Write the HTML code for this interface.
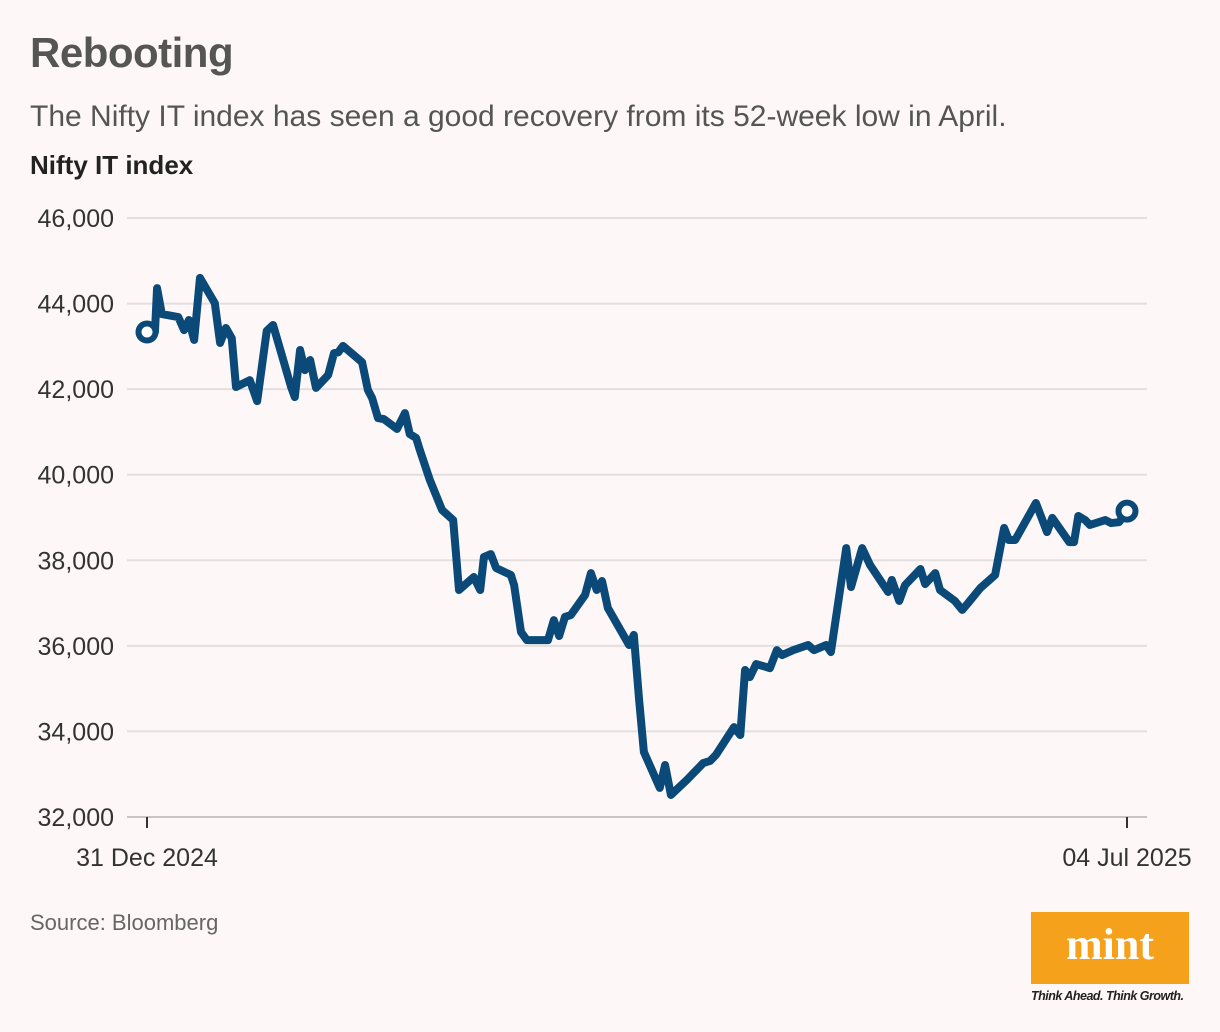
<!DOCTYPE html>
<html><head><meta charset="utf-8"><style>
body{margin:0;background:#fdf8f7;font-family:"Liberation Sans",sans-serif;}
#wrap{position:relative;width:1220px;height:1032px;overflow:hidden;background:#fdf8f7}
.t{position:absolute;white-space:nowrap}
</style></head><body>
<div id="wrap">
<div class="t" style="left:30px;top:29px;font-size:42px;font-weight:bold;color:#555;letter-spacing:-0.5px">Rebooting</div>
<div class="t" style="left:30px;top:100px;font-size:30px;color:#555">The Nifty IT index has seen a good recovery from its 52-week low in April.</div>
<div class="t" style="left:30px;top:150px;font-size:26px;font-weight:bold;color:#222">Nifty IT index</div>
<svg id="chart" width="1220" height="1032" style="position:absolute;left:0;top:0"></svg>
<div class="t" style="left:30px;top:910px;font-size:22px;color:#666">Source: Bloomberg</div>
<div style="position:absolute;left:1031px;top:912px;width:158px;height:72px;background:#f5a11c;color:#fff;font-family:'Liberation Serif',serif;font-weight:bold;font-size:44px;text-align:center;line-height:66px">mint</div>
<div class="t" style="left:1031px;top:989px;font-size:12.5px;font-style:italic;font-weight:bold;color:#222;letter-spacing:-0.5px">Think Ahead. Think Growth.</div>
</div>
<script>
const days=[0,1.5,1.9,2.8,5.9,7,7.9,8.9,10,12.8,13.8,14.9,16,16.8,19.4,20.8,22.6,23.8,27.2,27.9,28.9,29.8,30.8,31.9,34.2,35.3,36.1,37,40.6,41.7,42.5,43.6,44.7,47.2,48.7,49.6,50.8,51.5,53.4,55.7,57.8,58.9,61.7,62.9,63.6,64.9,65.9,68.7,69.3,70.6,71.7,75.7,76.8,77.8,78.9,80,82.7,83.8,84.9,85.9,87,91,91.9,92.9,93.8,96.8,97.8,98.9,101.9,105,106.3,107.4,110.8,112,112.9,113.8,115,117.6,118.9,119.9,122,124.8,125.9,128.2,129.1,132,132.9,135,136.5,139.9,140.6,142,143.1,146,146.9,148.8,149.7,152.5,153.9,155,157.3,160.1,161.8,162.7,163.9,167.8,169.9,170.9,174.1,175,175.8,177.1,178,180.9,182,183.5,185];
const values=[43335,43335,44360,43755,43685,43380,43615,43150,44600,44010,43080,43430,43190,42050,42210,41720,43360,43500,42050,41815,42915,42445,42680,42030,42330,42840,42860,43010,42630,41980,41790,41325,41300,41070,41440,40950,40860,40580,39875,39175,38940,37305,37610,37305,38075,38145,37820,37655,37420,36325,36135,36135,36600,36230,36675,36720,37190,37700,37305,37515,36885,36020,36255,34735,33520,32680,33215,32515,32865,33260,33310,33450,34100,33915,35435,35270,35575,35480,35900,35785,35900,36020,35900,36020,35855,38285,37375,38285,37890,37260,37540,37050,37420,37795,37445,37700,37305,37050,36840,37000,37350,37655,38755,38475,38475,39340,38660,38990,38425,38425,39035,38940,38825,38940,38870,38890,39150];
const yTicks=[32000,34000,36000,38000,40000,42000,44000,46000];
const yTickLabels=["32,000","34,000","36,000","38,000","40,000","42,000","44,000","46,000"];
const xTickDays=[0,185];
const xTickLabels=["31 Dec 2024","04 Jul 2025"];
const X0=147,X1=1127,Y0=817,Y1=218;
const xs=d=>X0+(d-0)/(185-0)*(X1-X0);
const ys=v=>Y0-(v-32000)/(46000-32000)*(Y0-Y1);
const NS="http://www.w3.org/2000/svg",svg=document.getElementById('chart');
function mk(t,a){const e=document.createElementNS(NS,t);for(const k in a)e.setAttribute(k,a[k]);svg.appendChild(e);return e;}
yTicks.forEach((v,i)=>{
  const g=mk('line',{x1:127,x2:1147,y1:ys(v),y2:ys(v),stroke:i==0?'#c9c4c4':'#e3dfdf','stroke-width':2});
  
  
  const t=mk('text',{x:114,y:ys(v)+9,'text-anchor':'end','font-size':25,fill:'#333','font-family':'Liberation Sans, sans-serif'});
  t.textContent=yTickLabels[i];
  
  
});
xTickDays.forEach((d,i)=>{
  const l=mk('line',{x1:xs(d),x2:xs(d),y1:817,y2:828,stroke:'#333','stroke-width':2});
  
  
  const t=mk('text',{x:xs(d),y:866,'text-anchor':'middle','font-size':25,fill:'#333','font-family':'Liberation Sans, sans-serif'});
  t.textContent=xTickLabels[i];
  
  
});
const p=mk('polyline',{points:days.map((d,i)=>xs(d)+','+ys(values[i])).join(' '),fill:'none',stroke:'#0b4a78','stroke-width':8,'stroke-linejoin':'round','stroke-linecap':'round'});


[0,days.length-1].forEach(i=>{
  const c=mk('circle',{cx:xs(days[i]),cy:ys(values[i]),r:8.5,fill:'#fff',stroke:'#0b4a78','stroke-width':6});
  
  
});
</script>
</body></html>
